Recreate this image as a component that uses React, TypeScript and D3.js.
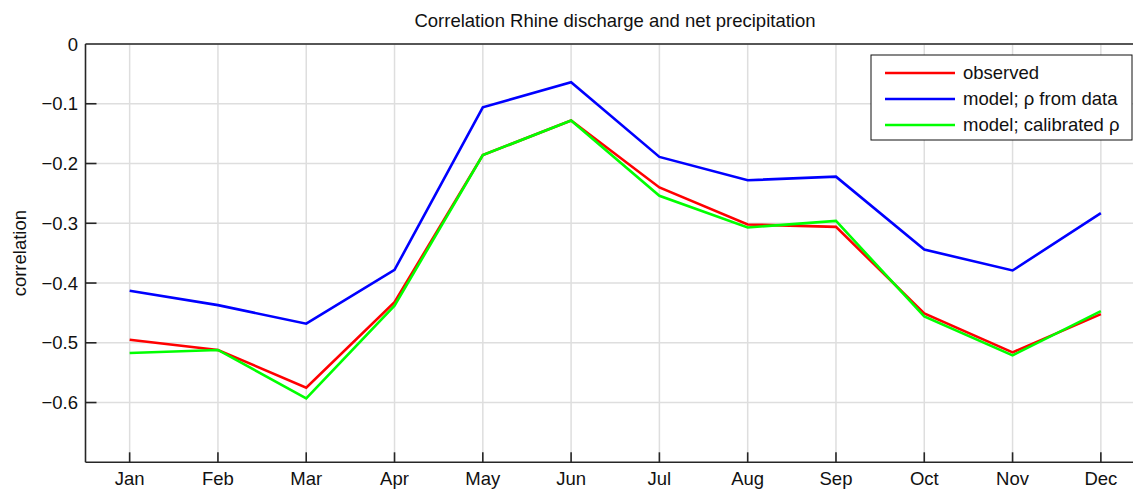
import React from 'react'
import * as d3 from 'd3'

const months = ['Jan', 'Feb', 'Mar', 'Apr', 'May', 'Jun', 'Jul', 'Aug', 'Sep', 'Oct', 'Nov', 'Dec']
const observed = [-0.495, -0.512, -0.575, -0.432, -0.186, -0.128, -0.240, -0.302, -0.306, -0.451, -0.516, -0.452]
const modelData = [-0.413, -0.437, -0.468, -0.378, -0.106, -0.064, -0.189, -0.228, -0.222, -0.344, -0.379, -0.283]
const modelCalibrated = [-0.517, -0.512, -0.593, -0.438, -0.186, -0.128, -0.254, -0.307, -0.296, -0.456, -0.521, -0.447]
const yTicks = [0, -0.1, -0.2, -0.3, -0.4, -0.5, -0.6]

const series = [
  { name: 'observed', values: observed, color: '#ff0000' },
  { name: 'model; \u03c1 from data', values: modelData, color: '#0000ff' },
  { name: 'model; calibrated \u03c1', values: modelCalibrated, color: '#00ff00' }
]

const W = 1133
const H = 490
const margin = { top: 44, left: 85.5, bottom: 462.3, right: 1145 }
const font = 'Liberation Sans, Arial, Helvetica, sans-serif'
const fs = 18.5

export default function App () {
  const x = d3.scaleLinear().domain([0.5, 12.5]).range([margin.left, margin.right])
  const y = d3.scaleLinear().domain([-0.7, 0]).range([margin.bottom, margin.top])
  const line = d3.line<number>().x((d, i) => x(i + 1)).y(d => y(d))
  const axisColor = '#262626'

  return (
    <svg width={W} height={H} style={{ position: 'absolute', left: 0, top: 0, background: '#fff' }} fontFamily={font}>
      {/* grid */}
      {months.map((m, i) => (
        <line key={'gx' + m} x1={x(i + 1)} x2={x(i + 1)} y1={margin.top} y2={margin.bottom} stroke='#dedede' strokeWidth={1.5} />
      ))}
      {yTicks.map(t => (
        <line key={'gy' + t} x1={margin.left} x2={margin.right} y1={y(t)} y2={y(t)} stroke='#dedede' strokeWidth={1.5} />
      ))}

      {/* data lines */}
      {series.map(s => (
        <path key={s.name} d={line(s.values) || ''} fill='none' stroke={s.color} strokeWidth={2.6} strokeLinejoin='miter' />
      ))}

      {/* axes frame */}
      <line x1={margin.left} x2={margin.left} y1={margin.top} y2={margin.bottom} stroke={axisColor} strokeWidth={1.6} />
      <line x1={margin.left} x2={margin.right} y1={margin.bottom} y2={margin.bottom} stroke={axisColor} strokeWidth={1.6} />
      <line x1={margin.left} x2={margin.right} y1={margin.top} y2={margin.top} stroke={axisColor} strokeWidth={1.6} />

      {/* y ticks */}
      {yTicks.map(t => (
        <g key={'yt' + t}>
          {t !== 0 && <line x1={margin.left} x2={margin.left + 11} y1={y(t)} y2={y(t)} stroke={axisColor} strokeWidth={1.6} />}
          <text x={78} y={y(t)} dy='0.36em' textAnchor='end' fontSize={fs} fill='#111'>
            {t === 0 ? '0' : d3.format('.1f')(t).replace('-', '\u2212')}
          </text>
        </g>
      ))}

      {/* x ticks */}
      {months.map((m, i) => (
        <g key={'xt' + m}>
          <line x1={x(i + 1)} x2={x(i + 1)} y1={margin.bottom} y2={margin.bottom - 10} stroke={axisColor} strokeWidth={1.6} />
          <text x={x(i + 1)} y={485} textAnchor='middle' fontSize={fs} fill='#111'>{m}</text>
        </g>
      ))}

      {/* labels */}
      <text x={615} y={27} textAnchor='middle' fontSize={fs} fill='#111'>Correlation Rhine discharge and net precipitation</text>
      <text transform={`translate(26,${(margin.top + margin.bottom) / 2}) rotate(-90)`} textAnchor='middle' fontSize={fs} fill='#111'>correlation</text>

      {/* legend */}
      <rect x={871} y={55} width={261} height={85} fill='#fff' stroke='#111' strokeWidth={1} />
      {series.map((s, i) => (
        <g key={'lg' + s.name} transform={`translate(885,${73 + i * 26})`}>
          <line x1={0} x2={70} y1={0} y2={0} stroke={s.color} strokeWidth={2.6} />
          <text x={78} y={0} dy='0.35em' fontSize={fs} fill='#111'>{s.name}</text>
        </g>
      ))}
    </svg>
  )
}
